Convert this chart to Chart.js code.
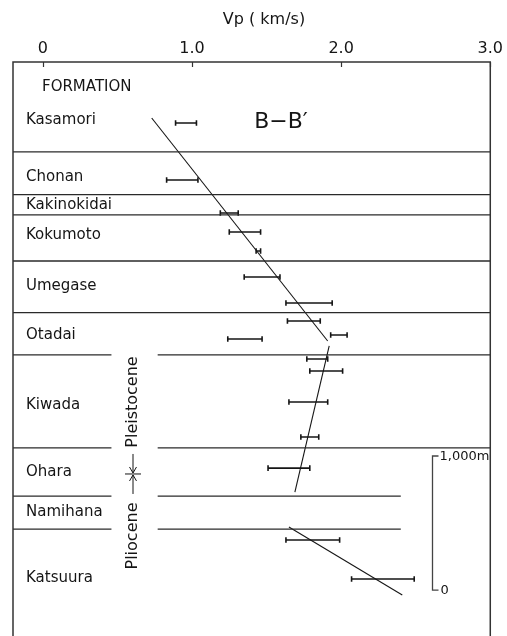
<!DOCTYPE html>
<html>
<head>
<meta charset="utf-8">
<script src="https://cdn.jsdelivr.net/npm/chart.js@4.4.1/dist/chart.umd.min.js"></script>
<style>
  html, body { margin: 0; padding: 0; background: #fff; }
  #wrap { width: 507px; height: 636px; }
</style>
</head>
<body>
<div id="wrap"><canvas id="c" width="507" height="636"></canvas></div>
<script>
// Formations, youngest (top) to oldest (bottom)
const formations = ['Kasamori', 'Chonan', 'Kakinokidai', 'Kokumoto', 'Umegase',
                    'Otadai', 'Kiwada', 'Ohara', 'Namihana', 'Katsuura'];
// Stratigraphic height (m) of each formation base, top to bottom
const boundaryHeights = [3270, 2950, 2800, 2455, 2070, 1755, 1060, 700, 455];
// Right-hand end of each boundary line (km/s)
const boundaryRightEnd = [3.0, 3.0, 3.0, 3.0, 3.0, 3.0, 3.0, 2.4, 2.4];
// Pleistocene / Pliocene boundary height (m)
const epochBoundary = 866;

// Measured Vp ranges (km/s) and their stratigraphic heights (m)
const sampleHeights = [3485, 3060, 2813, 2672, 2530, 2336, 2142, 2007, 1903, 1873,
                       1724, 1634, 1403, 1142, 910, 373, 82];
const vpLow  = [0.89, 0.83, 1.19, 1.25, 1.43, 1.35, 1.63, 1.64, 1.93, 1.24,
                1.77, 1.79, 1.65, 1.73, 1.51, 1.63, 2.07];
const vpHigh = [1.03, 1.04, 1.31, 1.46, 1.46, 1.59, 1.94, 1.86, 2.04, 1.47,
                1.91, 2.01, 1.91, 1.85, 1.79, 1.99, 2.49];

// Trend lines: Kasamori–Otadai, Kiwada–Ohara, Namihana–Katsuura
const trend1Vp = [0.73, 1.91];  const trend1H = [3522, 1858];
const trend2Vp = [1.92, 1.69];  const trend2H = [1821, 731];
const trend3Vp = [1.65, 2.41];  const trend3H = [470, -37];

// Top axis
const xTickValues = [0, 1, 2, 3];
const xTickLabels = ['0', '1.0', '2.0', '3.0'];

const INK = '#151515';
const FONT = 'DejaVu Sans';
Chart.defaults.font.family = FONT;

const datasets = [];
const seg = (pts, width, color) => ({
  type: 'line',
  data: pts,
  borderColor: color || INK,
  borderWidth: width,
  pointRadius: 0,
  fill: false,
  tension: 0
});

// formation boundaries (gap left for the epoch annotation below Otadai)
const gapFrom = 0.46, gapTo = 0.77, xLeft = -0.2;
boundaryHeights.forEach((h, i) => {
  if (i >= 5) {
    datasets.push(seg([{x: xLeft, y: h}, {x: gapFrom, y: h}], 1.3, '#2a2a2a'));
    datasets.push(seg([{x: gapTo, y: h}, {x: boundaryRightEnd[i], y: h}], 1.3, '#2a2a2a'));
  } else {
    datasets.push(seg([{x: xLeft, y: h}, {x: boundaryRightEnd[i], y: h}], 1.3, '#2a2a2a'));
  }
});

// Vp ranges with end caps
sampleHeights.forEach((h, i) => {
  datasets.push({
    type: 'line',
    data: [{x: vpLow[i], y: h}, {x: vpHigh[i], y: h}],
    borderColor: INK,
    borderWidth: 1.6,
    pointStyle: 'line',
    pointRotation: 90,
    pointRadius: 2.8,
    pointBorderWidth: 1.6,
    pointBorderColor: INK,
    pointBackgroundColor: INK,
    fill: false
  });
});

// trend lines
[[trend1Vp, trend1H], [trend2Vp, trend2H], [trend3Vp, trend3H]].forEach(([v, h]) => {
  datasets.push(seg(v.map((vp, k) => ({x: vp, y: h[k]})), 1.1));
});

const sectionDecor = {
  id: 'sectionDecor',
  afterDatasetsDraw(chart) {
    const {ctx, chartArea: a, scales: {x, y}} = chart;
    ctx.save();

    // frame: top, left, right
    ctx.strokeStyle = '#333';
    ctx.lineWidth = 1.5;
    ctx.beginPath();
    ctx.moveTo(a.left, a.bottom); ctx.lineTo(a.left, a.top);
    ctx.lineTo(a.right, a.top); ctx.lineTo(a.right, a.bottom);
    ctx.stroke();

    // inward tick marks on the top axis
    ctx.lineWidth = 1.2;
    x.ticks.forEach(t => {
      const px = Math.round(x.getPixelForValue(t.value)) + 0.5;
      ctx.beginPath(); ctx.moveTo(px, a.top); ctx.lineTo(px, a.top + 5); ctx.stroke();
    });

    ctx.fillStyle = INK;
    ctx.textBaseline = 'middle';

    // axis title
    ctx.font = '16px ' + FONT;
    ctx.textAlign = 'center';
    ctx.fillText('Vp ( km/s)', 264, 20);

    // formation names
    const labelH = [3507, 3082, 2873, 2649, 2269, 1903, 1381, 881, 582, 90];
    ctx.textAlign = 'left';
    ctx.font = '15px ' + FONT;
    ctx.fillText('FORMATION', a.left + 29, y.getPixelForValue(3754));
    formations.forEach((f, i) => ctx.fillText(f, a.left + 13, y.getPixelForValue(labelH[i])));

    // section name
    ctx.font = '22px ' + FONT;
    ctx.textAlign = 'center';
    ctx.fillText('B\u2212B\u2032', 281, 122);

    // epoch annotation
    const ex = 133;
    const yb = y.getPixelForValue(epochBoundary);
    ctx.font = '16px ' + FONT;
    ctx.save();
    ctx.translate(ex, 402); ctx.rotate(-Math.PI / 2);
    ctx.fillText('Pleistocene', 0, 0);
    ctx.restore();
    ctx.save();
    ctx.translate(ex, 536); ctx.rotate(-Math.PI / 2);
    ctx.fillText('Pliocene', 0, 0);
    ctx.restore();

    ctx.strokeStyle = INK;
    ctx.lineWidth = 1;
    ctx.beginPath();
    ctx.moveTo(ex - 8, yb); ctx.lineTo(ex + 8, yb);
    // downward arrow from Pleistocene
    ctx.moveTo(ex, yb - 20); ctx.lineTo(ex, yb - 1);
    ctx.moveTo(ex - 3.5, yb - 7); ctx.lineTo(ex, yb - 1); ctx.lineTo(ex + 3.5, yb - 7);
    // upward arrow from Pliocene
    ctx.moveTo(ex, yb + 20); ctx.lineTo(ex, yb + 1);
    ctx.moveTo(ex - 3.5, yb + 7); ctx.lineTo(ex, yb + 1); ctx.lineTo(ex + 3.5, yb + 7);
    ctx.stroke();

    // vertical scale bar, 0 – 1,000 m
    const sx = Math.round(x.getPixelForValue(2.607)) + 0.5;
    const y0 = y.getPixelForValue(0), y1 = y.getPixelForValue(1000);
    ctx.strokeStyle = '#444';
    ctx.lineWidth = 1.3;
    ctx.beginPath();
    ctx.moveTo(sx + 6, y1); ctx.lineTo(sx, y1); ctx.lineTo(sx, y0); ctx.lineTo(sx + 6, y0);
    ctx.stroke();
    ctx.font = '13px ' + FONT;
    ctx.textAlign = 'left';
    ctx.fillText('1,000m', sx + 7, y1 + 1);
    ctx.fillText('0', sx + 8, y0 + 1);

    ctx.restore();
  }
};

new Chart(document.getElementById('c'), {
  type: 'line',
  data: {datasets},
  options: {
    responsive: false,
    animation: false,
    events: [],
    layout: {autoPadding: false, padding: {left: 13, right: 15, top: 34.8, bottom: 0}},
    plugins: {legend: {display: false}, tooltip: {enabled: false}},
    scales: {
      x: {
        type: 'linear',
        position: 'top',
        min: -0.2,
        max: 3.0,
        afterBuildTicks: s => { s.ticks = xTickValues.map(v => ({value: v})); },
        ticks: {
          callback: (v, i) => xTickLabels[i],
          font: {family: FONT, size: 16},
          color: INK,
          padding: 4,
          maxRotation: 0,
          autoSkip: false
        },
        grid: {display: false, drawTicks: false},
        border: {display: false}
      },
      y: {
        type: 'linear',
        display: false,
        min: -343,
        max: 3940
      }
    }
  },
  plugins: [sectionDecor]
});
</script>
</body>
</html>
